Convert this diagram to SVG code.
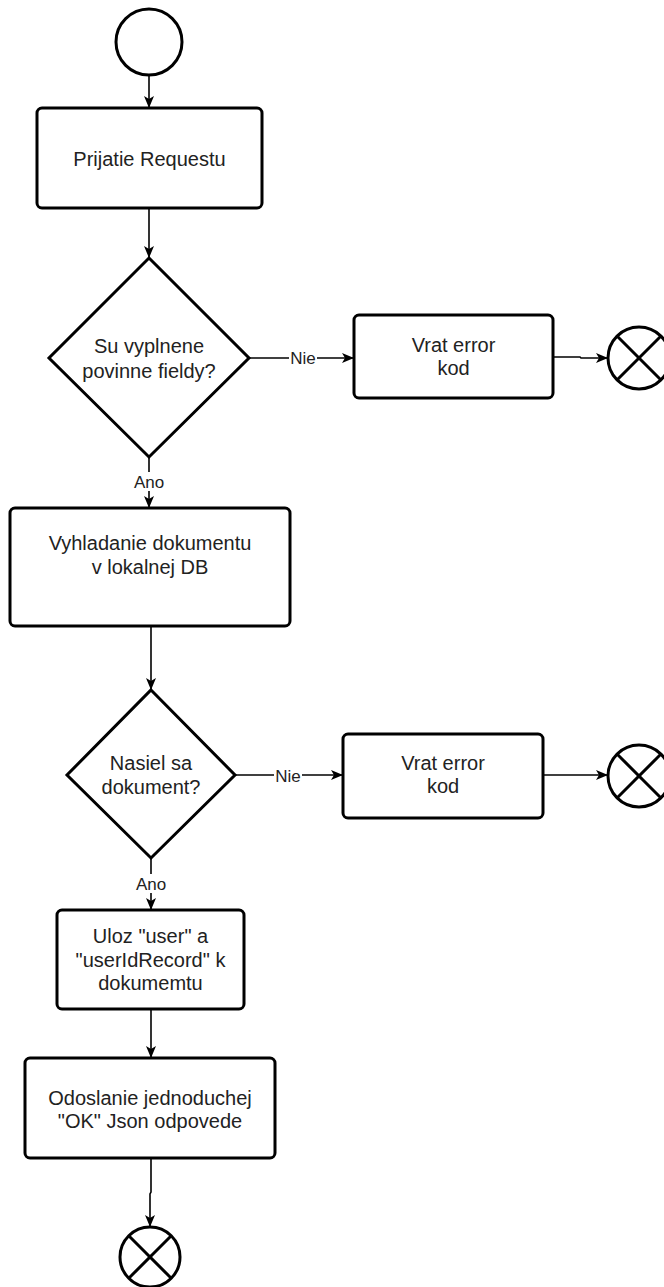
<svg xmlns="http://www.w3.org/2000/svg" width="664" height="1287" viewBox="0 0 664 1287">
<defs>
<marker id="arr" viewBox="0 0 12 10" refX="11" refY="5" markerWidth="12" markerHeight="10" markerUnits="userSpaceOnUse" orient="auto">
<path d="M0,0 L12,5 L0,10 L3,5 Z" fill="#000"/>
</marker>
</defs>
<style>
.box{fill:#fff;stroke:#000;stroke-width:3}
.ev{fill:#fff;stroke:#000;stroke-width:3}
.x{stroke:#000;stroke-width:3}
.t{font-family:"Liberation Sans",Arial,sans-serif;font-size:20px;fill:#222;text-anchor:middle}
.l{font-family:"Liberation Sans",Arial,sans-serif;font-size:17px;fill:#222;text-anchor:middle}
.c{fill:none;stroke:#000;stroke-width:1.6;marker-end:url(#arr)}
.lb{fill:#fff}
</style>
<rect width="664" height="1287" fill="#fff"/>
<g id="connectors">
<path class="c" d="M149,75 L149,107"/>
<path class="c" d="M149,208 L149,257"/>
<path class="c" d="M249,358 L353,358"/>
<path class="c" d="M553,357 L580,357 L581,358 L607,358"/>
<path class="c" d="M149,457 L149,507"/>
<path class="c" d="M151,626 L151,689"/>
<path class="c" d="M235,775 L342,775"/>
<path class="c" d="M543,775 L607,775"/>
<path class="c" d="M151,858 L151,909"/>
<path class="c" d="M151,1009 L151,1057"/>
<path class="c" d="M151,1158 L151,1192 L150,1194 L150,1226"/>
<rect class="lb" x="289" y="349" width="28" height="18"/>
<text class="l" x="303" y="364">Nie</text>
<rect class="lb" x="133" y="472" width="32" height="19"/>
<text class="l" x="149" y="488">Ano</text>
<rect class="lb" x="274" y="766" width="28" height="18"/>
<text class="l" x="288" y="782">Nie</text>
<rect class="lb" x="135" y="874" width="32" height="19"/>
<text class="l" x="151" y="890">Ano</text>
</g>
<g id="start">
<circle class="ev" cx="149" cy="42" r="33"/>
</g>
<g id="prijatie">
<rect class="box" x="37" y="108" width="225" height="100" rx="5"/>
<text class="t" x="149.5" y="166">Prijatie Requestu</text>
</g>
<g id="dec1">
<polygon class="box" points="149,258 249,358 149,457 49,358"/>
<text class="t" x="149" y="353">Su vyplnene</text>
<text class="t" x="149" y="378">povinne fieldy?</text>
</g>
<g id="err1">
<rect class="box" x="354" y="315" width="199" height="83" rx="5"/>
<text class="t" x="453.5" y="352">Vrat error</text>
<text class="t" x="453.5" y="375">kod</text>
</g>
<g id="end1">
<circle class="ev" cx="639" cy="358" r="31"/>
<line class="x" x1="617" y1="336" x2="661" y2="380"/>
<line class="x" x1="617" y1="380" x2="661" y2="336"/>
</g>
<g id="vyhladanie">
<rect class="box" x="10" y="508" width="280" height="118" rx="5"/>
<text class="t" x="150" y="550">Vyhladanie dokumentu</text>
<text class="t" x="150" y="574">v lokalnej DB</text>
</g>
<g id="dec2">
<polygon class="box" points="151,690 235,775 151,858 67,775"/>
<text class="t" x="151" y="770">Nasiel sa</text>
<text class="t" x="151" y="794">dokument?</text>
</g>
<g id="err2">
<rect class="box" x="343" y="734" width="200" height="84" rx="5"/>
<text class="t" x="443" y="770">Vrat error</text>
<text class="t" x="443" y="793">kod</text>
</g>
<g id="end2">
<circle class="ev" cx="639" cy="776" r="31"/>
<line class="x" x1="617" y1="754" x2="661" y2="798"/>
<line class="x" x1="617" y1="798" x2="661" y2="754"/>
</g>
<g id="uloz">
<rect class="box" x="57" y="910" width="187" height="99" rx="5"/>
<text class="t" x="150.5" y="943">Uloz "user" a</text>
<text class="t" x="150.5" y="967">"userIdRecord" k</text>
<text class="t" x="150.5" y="990">dokumemtu</text>
</g>
<g id="odoslanie">
<rect class="box" x="25" y="1058" width="250" height="100" rx="5"/>
<text class="t" x="150" y="1105">Odoslanie jednoduchej</text>
<text class="t" x="150" y="1128">"OK" Json odpovede</text>
</g>
<g id="end3">
<circle class="ev" cx="150" cy="1257" r="30"/>
<line class="x" x1="129" y1="1236" x2="171" y2="1278"/>
<line class="x" x1="129" y1="1278" x2="171" y2="1236"/>
</g>
</svg>
